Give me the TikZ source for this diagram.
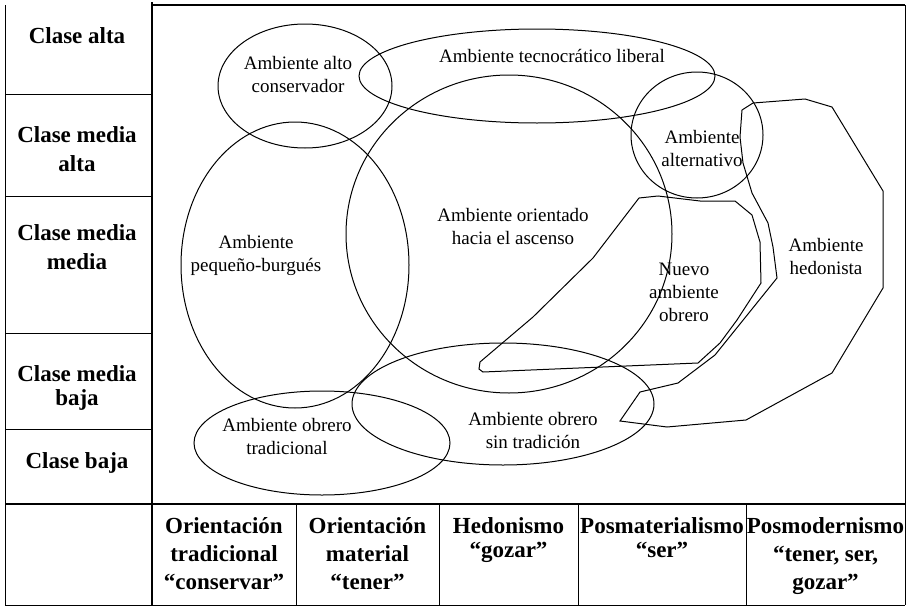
\documentclass[tikz,border=0pt]{standalone}
\usepackage{fontspec}
\setmainfont{Liberation Serif}

\begin{document}
\begin{tikzpicture}[x=1pt, y=-1pt,
      thk/.style={draw, line width=2pt},
      thn/.style={draw, line width=0.9pt},
      env/.style={draw, line width=1pt, line join=miter},
      cls/.style={font=\fontsize{23}{29}\selectfont\bfseries, align=center,
        anchor=north, inner sep=0pt},
      clsb/.style={cls, font=\fontsize{23}{24}\selectfont\bfseries},
      ori/.style={cls, font=\fontsize{23}{28}\selectfont\bfseries},
      orib/.style={cls, font=\fontsize{23}{24}\selectfont\bfseries},
      amb/.style={font=\fontsize{19}{23}\selectfont, align=center,
        inner sep=0pt}
    ]
    \useasboundingbox (0,0) rectangle (911,608);
    % === Frame ===
    \draw[thk] (152,5) -- (905,5);
    \draw[thn] (905,5) -- (905,605);
    \draw[thn] (5,5) -- (5,605);
    \draw[thk] (152,2) -- (152,605);
    \draw[thk] (5,504) -- (905,504);
    \draw[thn] (5,605) -- (905,605);
    \foreach \yy in {94,196,333,429}
      \draw[thn] (5,\yy) -- (152,\yy);
    \foreach \xx in {296,439,578,746}
      \draw[thn] (\xx,504) -- (\xx,605);
    % === Left column: social classes ===
    \node[cls]  (calta) at (77,27.5)  {Clase alta};
    \node[cls]  (cmalt) at (77,126.5) {Clase media\\alta};
    \node[cls]  (cmmed) at (77,224.5) {Clase media\\media};
    \node[clsb] (cmbaj) at (77,365.5) {Clase media\\baja};
    \node[cls]  (cbaja) at (77,452.5) {Clase baja};
    % === Bottom row: value orientations ===
    \node[ori]  (otrad) at (224,517)   {Orientación\\tradicional\\“conservar”};
    \node[ori]  (omat)  at (367.5,517) {Orientación\\material\\“tener”};
    \node[orib] (hedon) at (508.5,517) {Hedonismo\\“gozar”};
    \node[orib] (posma) at (662,517)   {Posmaterialismo\\“ser”};
    \node[ori]  (posmo) at (825.5,517) {Posmodernismo\\“tener, ser,\\gozar”};
    % === Milieus (ellipses) ===
    \draw[env] (305,86)  ellipse [x radius=87pt,  y radius=62pt];
    \draw[env] (537,76)  ellipse [x radius=178pt, y radius=47pt];
    \draw[env] (509,234) ellipse [x radius=163pt, y radius=159pt];
    \draw[env] (295,265) ellipse [x radius=114pt, y radius=143pt];
    \draw[env] (322,443) ellipse [x radius=128pt, y radius=52pt];
    \draw[env] (503,404) ellipse [x radius=151pt, y radius=61pt];
    \draw[env] (697,135) ellipse [x radius=66pt,  y radius=63pt];
    % === Milieus (polygons) ===
    \draw[env] (639,198) -- (658,196) -- (700,201) -- (735,201) -- (752,215)
      -- (760,242) -- (761,283) -- (737,320) -- (720,343) -- (698,363)
      -- (483,372) -- (479,369) -- (480,362) -- (533,317) -- (593,258)
      -- cycle;
    \draw[env] (742,110) -- (753,103) -- (805,99) -- (832,107) -- (883,191)
      -- (883,288) -- (832,373) -- (746,420) -- (667,427) -- (620,421)
      -- (640,392) -- (678,383) -- (715,355) -- (777,278) -- (773,247)
      -- (768,223) -- (752,193) -- (743,163) -- (740,137) -- cycle;
    % === Milieu labels ===
    \node[amb] (altoc) at (298,74)  {Ambiente alto\\conservador};
    \node[amb] (tecno) at (552,56)  {Ambiente tecnocrático liberal};
    \node[amb] (ascen) at (513,226) {Ambiente orientado\\hacia el ascenso};
    \node[amb] (pburg) at (256,255) {Ambiente\\pequeño-burgués};
    \node[amb] (obtra) at (287,436) {Ambiente obrero\\tradicional};
    \node[amb] (obsin) at (533,430) {Ambiente obrero\\sin tradición};
    \node[amb] (alter) at (702,148) {Ambiente\\alternativo};
    \node[amb] (hedst) at (826,256) {Ambiente\\hedonista};
    \node[amb] (nuevo) at (684,292) {Nuevo\\ambiente\\obrero};
  \end{tikzpicture}
\end{document}
